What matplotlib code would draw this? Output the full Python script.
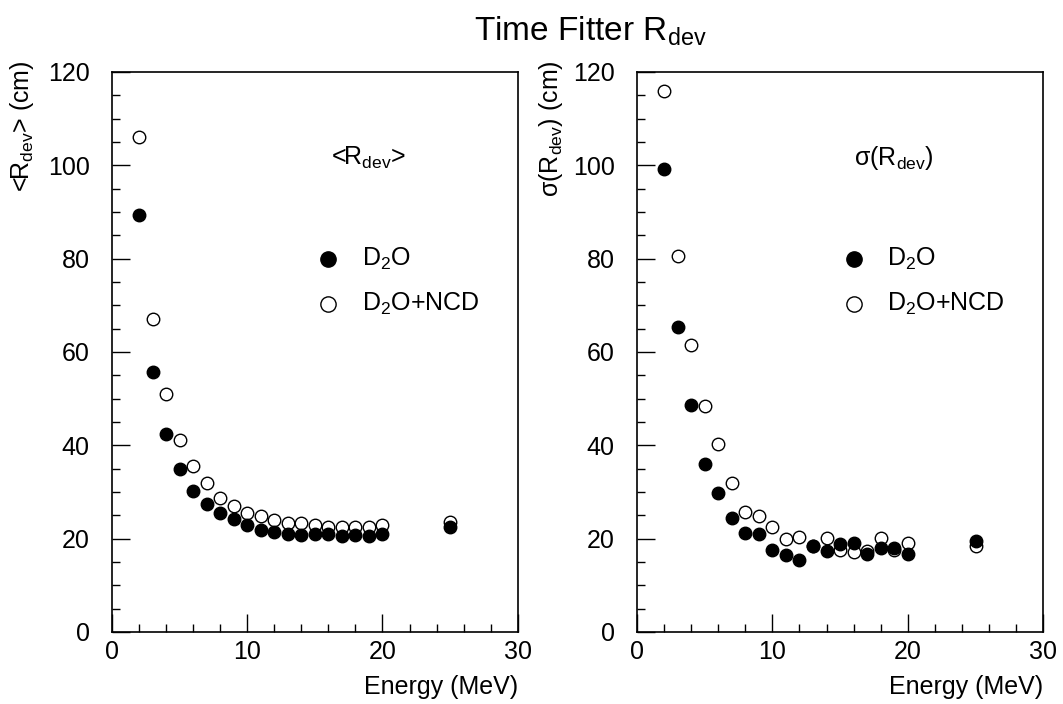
import matplotlib
matplotlib.use("Agg")
import matplotlib.pyplot as plt
from matplotlib.ticker import MultipleLocator

# ---------------- data ----------------
energy = [2, 3, 4, 5, 6, 7, 8, 9, 10, 11, 12, 13, 14, 15, 16, 17, 18, 19, 20, 25]

mean_d2o = [89.4, 55.8, 42.4, 34.9, 30.3, 27.4, 25.6, 24.2, 22.9, 21.9,
            21.4, 21.1, 20.8, 21.1, 20.9, 20.5, 20.8, 20.6, 21.0, 22.6]
mean_ncd = [106.0, 67.1, 51.0, 41.1, 35.6, 32.0, 28.8, 27.0, 25.6, 24.9,
            24.1, 23.4, 23.3, 22.9, 22.6, 22.6, 22.6, 22.6, 22.9, 23.6]

sigma_d2o = [99.1, 65.4, 48.6, 36.1, 29.7, 24.5, 21.3, 21.0, 17.6, 16.6,
             15.4, 18.5, 17.3, 18.8, 19.0, 16.7, 18.0, 18.1, 16.7, 19.5]
sigma_ncd = [116.0, 80.5, 61.4, 48.4, 40.3, 32.0, 25.7, 24.9, 22.6, 19.9,
             20.3, 18.5, 20.1, 17.6, 17.1, 17.3, 20.1, 17.6, 19.0, 18.5]

title = "Time Fitter R$_{\\mathregular{dev}}$"
ylabels = ["<R$_{\\mathregular{dev}}$> (cm)", "\u03c3(R$_{\\mathregular{dev}}$) (cm)"]
panel_labels = ["<R$_{\\mathregular{dev}}$>", "\u03c3(R$_{\\mathregular{dev}}$)"]
series_labels = ["D$_{\\mathregular{2}}$O", "D$_{\\mathregular{2}}$O+NCD"]
xlabel = "Energy (MeV)"

# ---------------- style ----------------
plt.rcParams["font.family"] = ["Liberation Sans", "DejaVu Sans"]
plt.rcParams["mathtext.fontset"] = "custom"
plt.rcParams["mathtext.rm"] = "Liberation Sans"
plt.rcParams["mathtext.it"] = "Liberation Sans:italic"
plt.rcParams["mathtext.bf"] = "Liberation Sans:bold"

fig = plt.figure(figsize=(10.63, 7.04), dpi=100)
fig.patch.set_facecolor("white")

axes_pos = [[0.1054, 0.1023, 0.3816, 0.7955], [0.5992, 0.1023, 0.3822, 0.7955]]
ylabel_x = [22 / 1063, 551 / 1063]
data = [(mean_d2o, mean_ncd), (sigma_d2o, sigma_ncd)]

for i, (pos, (d_fill, d_open)) in enumerate(zip(axes_pos, data)):
    ax = fig.add_axes(pos)
    ax.plot(energy, d_fill, linestyle="none", marker="o", markersize=9,
            markerfacecolor="black", markeredgecolor="black", zorder=3)
    ax.plot(energy, d_open, linestyle="none", marker="o", markersize=9,
            markerfacecolor="none", markeredgecolor="black", markeredgewidth=1.0, zorder=3)
    ax.set_xlim(0, 30)
    ax.set_ylim(0, 120)
    ax.xaxis.set_major_locator(MultipleLocator(10))
    ax.xaxis.set_minor_locator(MultipleLocator(2))
    ax.yaxis.set_major_locator(MultipleLocator(20))
    ax.yaxis.set_minor_locator(MultipleLocator(5))
    ax.tick_params(which="both", direction="in", top=False, right=False,
                   width=1.0, color="black")
    ax.tick_params(which="major", length=13, labelsize=18)
    ax.tick_params(which="minor", length=6)
    ax.tick_params(axis="y", which="major", pad=16)
    ax.tick_params(axis="x", which="major", pad=6)
    for sp in ax.spines.values():
        sp.set_linewidth(1.2)
    ax.set_xlabel(xlabel, fontsize=18, loc="right", labelpad=8)
    fig.text(ylabel_x[i], 1 - 60 / 704, ylabels[i], fontsize=18, rotation=90,
             ha="center", va="top")

    # in-plot labels and legend
    ax.text(19.0, 101.5, panel_labels[i], fontsize=18, ha="center", va="center")
    ax.plot([16.0], [80.0], linestyle="none", marker="o", markersize=11,
            markerfacecolor="black", markeredgecolor="black")
    ax.plot([16.0], [70.2], linestyle="none", marker="o", markersize=11,
            markerfacecolor="none", markeredgecolor="black", markeredgewidth=1.0)
    ax.text(18.5, 80.0, series_labels[0], fontsize=18, ha="left", va="center")
    ax.text(18.5, 70.2, series_labels[1], fontsize=18, ha="left", va="center")

fig.text(0.555, 0.955, title, fontsize=24, ha="center", va="center")

fig.savefig("out.png", dpi=100, facecolor="white")
